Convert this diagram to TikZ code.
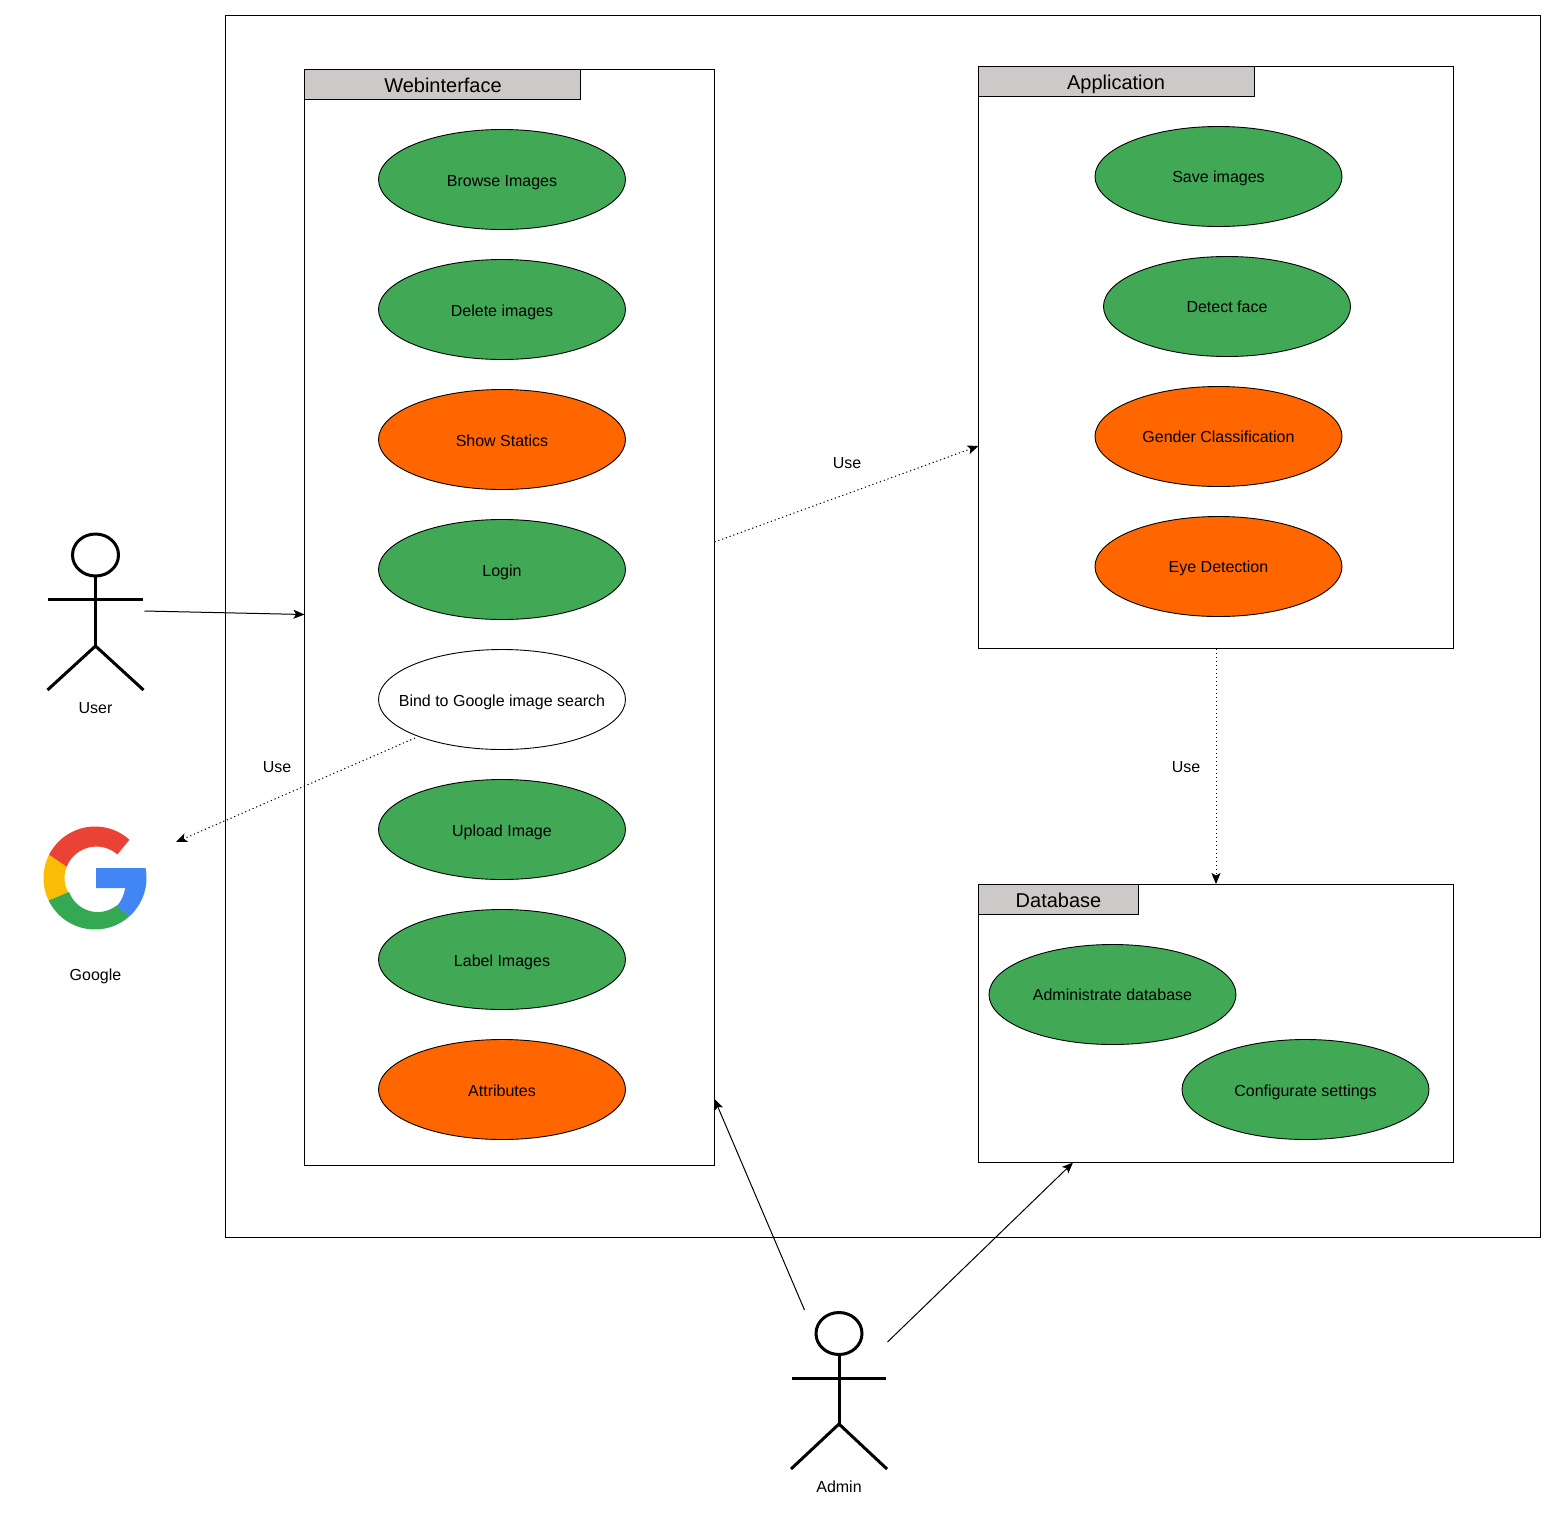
\documentclass[tikz,border=0pt]{standalone}
\usepackage{fontspec}
\setmainfont{Liberation Sans}
\usetikzlibrary{shapes.geometric,arrows.meta}
\definecolor{ucgreen}{HTML}{41A956}
\definecolor{ucorange}{HTML}{FF6600}
\definecolor{tabgray}{HTML}{CDC9C8}
\definecolor{gred}{HTML}{EA4335}
\definecolor{gyellow}{HTML}{FBBC05}
\definecolor{ggreen}{HTML}{34A853}
\definecolor{gblue}{HTML}{4285F4}
\tikzset{
  uc/.style={ellipse,draw=black,line width=0.9pt,minimum width=247pt,minimum height=100pt,inner ysep=0pt,inner xsep=-40pt,text height=11.5pt,text depth=0pt,font=\fontsize{16}{18}\selectfont,text=black},
  ucg/.style={uc,fill=ucgreen},
  uco/.style={uc,fill=ucorange},
  ucw/.style={uc,fill=white},
  lowtext/.style={text height=13.5pt},
  box/.style={draw=black,line width=0.9pt,fill=white,rectangle,inner sep=0pt},
  tabbox/.style={draw=black,line width=0.9pt,fill=tabgray,rectangle,inner sep=0pt},
  titletext/.style={font=\fontsize{20}{24}\selectfont,inner sep=0pt,text height=14.5pt,text depth=0pt},
  lbl/.style={font=\fontsize{16}{18}\selectfont,inner sep=0pt,text height=11.5pt,text depth=0pt},
  conn/.style={draw=black,line width=1pt,-{Stealth[length=11pt,width=9pt,inset=2.5pt]}},
  dotconn/.style={conn,dash pattern=on 1.2pt off 2.8pt},
  stick/.style={draw=black,line width=3pt},
}
\begin{document}
\begin{tikzpicture}[x=1pt,y=-1pt]
\useasboundingbox (0,0) rectangle (1556,1513);
\node[box,minimum width=1315pt,minimum height=1222pt] (outer) at (883,626.5) {};
% Webinterface
\node[box,minimum width=410pt,minimum height=1096pt] (web) at (509.5,617.5) {};
\node[tabbox,minimum width=276pt,minimum height=30pt] (webtab) at (442.5,84.5) {};
\node[titletext] (webtitle) at (443,85) {Webinterface};
\node[ucg,lowtext] (u1) at (502,179.5) {Browse Images};
\node[ucg,lowtext] (u2) at (502,309.5) {Delete images};
\node[uco,lowtext] (u3) at (502,439.5) {Show Statics};
\node[ucg,lowtext] (u4) at (502,569.5) {Login};
\node[ucw,lowtext] (u5) at (502,699.5) {Bind to Google image search};
\node[ucg,lowtext] (u6) at (502,829.5) {Upload Image};
\node[ucg,lowtext] (u7) at (502,959.5) {Label Images};
\node[uco,lowtext] (u8) at (502,1089.5) {Attributes};
% Application
\node[box,minimum width=475pt,minimum height=582pt] (app) at (1216,357.5) {};
\node[tabbox,minimum width=276pt,minimum height=30pt] (apptab) at (1116.5,81.5) {};
\node[titletext] (apptitle) at (1116,82) {Application};
\node[ucg] (a1) at (1218.5,176.5) {Save images};
\node[ucg] (a2) at (1227,306.5) {Detect face};
\node[uco] (a3) at (1218.5,436.5) {Gender Classification};
\node[uco] (a4) at (1218.5,566.5) {Eye Detection};
% Database
\node[box,minimum width=475pt,minimum height=278pt] (db) at (1216,1023.5) {};
\node[tabbox,minimum width=160pt,minimum height=30pt] (dbtab) at (1058.5,899.5) {};
\node[titletext] (dbtitle) at (1058.5,900) {Database};
\node[ucg] (d1) at (1112.5,994.5) {Administrate database};
\node[ucg,lowtext] (d2) at (1305.5,1089.5) {Configurate settings};
% User actor
\draw[stick] (95.5,555) ellipse [x radius=23,y radius=21];
\draw[stick] (95.5,576) -- (95.5,646);
\draw[stick] (48,599) -- (143,599);
\draw[stick] (47.5,690) -- (95.5,646) -- (143.5,690);
\node[lbl] (userlabel) at (95.5,708) {User};
% Admin actor
\draw[stick] (839,1333.5) ellipse [x radius=23,y radius=21];
\draw[stick] (839,1355) -- (839,1424);
\draw[stick] (792,1378) -- (886,1378);
\draw[stick] (791,1469) -- (839,1424) -- (887,1469);
\node[lbl] (adminlabel) at (839,1487) {Admin};
% Google logo
\begin{scope}[shift={(95,878)}]
\fill[gyellow] (150:51.5) arc [start angle=150,end angle=210,radius=51.5] -- (210:30.5) arc [start angle=210,end angle=150,radius=30.5] -- cycle;
\fill[gred] (-48:51.5) arc [start angle=-48,end angle=-153,radius=51.5] -- (-158:30.5) arc [start angle=-158,end angle=-49,radius=32] -- cycle;
\fill[ggreen] (154:51.5) arc [start angle=154,end angle=48,radius=51.5] -- (52:35) arc [start angle=52,end angle=160,radius=30.5] -- cycle;
\fill[gblue] (1,-10) -- (-11.2:51.5) arc [start angle=-11.2,end angle=48,radius=51.5] -- (21.7,28) .. controls (26,24) and (29,17) .. (30.3,10) -- (1,10) -- cycle;
\end{scope}
\node[lbl] (googlelabel) at (95.5,975) {Google};
% connector ends
\coordinate (userout) at (144.5,611);
\coordinate (webin) at (304.5,614.5);
\coordinate (bindout) at (415,738);
\coordinate (googlein) at (176,842);
\coordinate (webout) at (714.5,542);
\coordinate (appin) at (978.5,446);
\coordinate (adminweb) at (804.5,1310);
\coordinate (webadmin) at (714.5,1099);
\coordinate (admindb) at (887.5,1342);
\coordinate (dbadmin) at (1073,1162.5);
\draw[conn] (userout) -- (webin);
\draw[dotconn] (bindout) -- (googlein);
\draw[dotconn] (webout) -- (appin);
\draw[dotconn] (app.south) -- (db.north);
\draw[conn] (adminweb) -- (webadmin);
\draw[conn] (admindb) -- (dbadmin);
\node[lbl] (use1) at (847,463) {Use};
\node[lbl] (use2) at (277,767) {Use};
\node[lbl] (use3) at (1186,767) {Use};
\end{tikzpicture}
\end{document}
